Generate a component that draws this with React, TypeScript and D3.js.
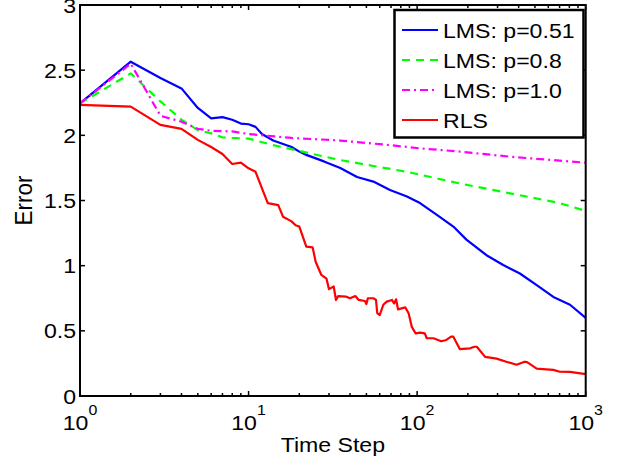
import React from "react";
import * as d3 from "d3";

const W = 621;
const H = 463;

const seriesNames = ["LMS: p=0.51", "LMS: p=0.8", "LMS: p=1.0", "RLS"];
const seriesColors = ["#0000ff", "#00ff00", "#ff00ff", "#ff0000"];
const seriesDash = ["none", "8,6", "8,4,2,4", "none"];

const lms051Steps = [1, 2, 3, 4, 5, 6, 7, 8, 9, 10, 11, 12, 14, 18, 20, 22, 28, 35, 44, 55, 69, 87, 104, 131, 164, 196, 258, 324, 407, 512, 643, 807, 1000];
const lms051Err = [2.245, 2.565, 2.44, 2.36, 2.21, 2.13, 2.14, 2.12, 2.09, 2.085, 2.065, 2.01, 1.96, 1.91, 1.875, 1.85, 1.8, 1.75, 1.68, 1.645, 1.58, 1.53, 1.48, 1.39, 1.3, 1.2, 1.08, 1.005, 0.94, 0.85, 0.76, 0.7, 0.6];

const lms08Steps = [1, 2, 3, 4, 5, 6, 7, 8, 10, 14, 20, 35, 55, 87, 180, 356, 702, 1000];
const lms08Err = [2.245, 2.475, 2.26, 2.12, 2.04, 2.015, 1.985, 1.98, 1.975, 1.925, 1.88, 1.81, 1.765, 1.72, 1.63, 1.555, 1.48, 1.42];

const lms10Steps = [1, 2, 3, 4, 5, 6, 8, 10, 18, 35, 69, 104, 180, 356, 1000];
const lms10Err = [2.245, 2.55, 2.15, 2.105, 2.05, 2.035, 2.03, 2.01, 1.98, 1.96, 1.925, 1.9, 1.875, 1.836, 1.79];

const rlsSteps = [1, 2, 3, 4, 5, 6, 7, 8, 9, 10, 11, 13, 15, 16, 18, 19, 20, 22, 24, 25, 27, 29, 30, 32, 33, 34, 38, 40, 43, 45, 49, 50, 51, 55, 57, 58, 60, 63, 66, 71, 73, 75, 77, 85, 89, 93, 98, 104, 111, 114, 125, 139, 149, 159, 164, 179, 206, 219, 226, 253, 296, 338, 389, 434, 449, 512, 584, 643, 702, 807, 1000];
const rlsErr = [2.233, 2.22, 2.08, 2.05, 1.965, 1.91, 1.857, 1.78, 1.79, 1.747, 1.72, 1.48, 1.465, 1.376, 1.34, 1.31, 1.3, 1.146, 1.14, 1.03, 0.93, 0.9, 0.82, 0.84, 0.737, 0.767, 0.762, 0.75, 0.767, 0.737, 0.729, 0.706, 0.75, 0.75, 0.737, 0.635, 0.62, 0.7, 0.724, 0.737, 0.71, 0.742, 0.665, 0.68, 0.635, 0.53, 0.48, 0.486, 0.48, 0.443, 0.443, 0.42, 0.43, 0.455, 0.455, 0.36, 0.366, 0.378, 0.378, 0.3, 0.287, 0.263, 0.24, 0.263, 0.26, 0.21, 0.205, 0.2, 0.186, 0.185, 0.168];

const yTicks = [0, 0.5, 1, 1.5, 2, 2.5, 3];
const yTickLabels = ["0", "0.5", "1", "1.5", "2", "2.5", "3"];
const xDecades = [0, 1, 2, 3];
const xLabel = "Time Step";
const yLabel = "Error";

const FONT = "'Liberation Sans', Arial, Helvetica, sans-serif";
const SX = 1.1;

const left = 80;
const right = 585.7;
const top = 5;
const bottom = 396;

export default function App() {
  const x = d3.scaleLog().domain([1, 1000]).range([left, right]);
  const y = d3.scaleLinear().domain([0, 3]).range([bottom, top]);

  const stepsList = [lms051Steps, lms08Steps, lms10Steps, rlsSteps];
  const errList = [lms051Err, lms08Err, lms10Err, rlsErr];

  const line = d3
    .line<[number, number]>()
    .x((d) => x(d[0]))
    .y((d) => y(d[1]));

  const paths = stepsList.map((s, i) =>
    line(s.map((v, j) => [v, errList[i][j]] as [number, number]))
  );

  const minor: number[] = [];
  [1, 10, 100].forEach((b) => {
    for (let k = 2; k <= 9; k++) minor.push(b * k);
  });

  const legX = 394.5;
  const legY = 10;
  const legW = 189;
  const legH = 127.5;
  const legRowY = (i: number) => 30 + i * 30;

  return (
    <svg
      width={W}
      height={H}
      viewBox={`0 0 ${W} ${H}`}
      style={{ position: "absolute", left: 0, top: 0, display: "block", background: "#fff" }}
    >
      <rect x={0} y={0} width={W} height={H} fill="#fff" />
      {paths.map((p, i) => (
        <path
          key={i}
          d={p || ""}
          fill="none"
          stroke={seriesColors[i]}
          strokeWidth={2.2}
          strokeDasharray={seriesDash[i]}
          strokeLinejoin="round"
        />
      ))}

      <rect x={left} y={top} width={right - left} height={bottom - top} fill="none" stroke="#000" strokeWidth={2} />

      {yTicks.map((t, i) => (
        <g key={"y" + i}>
          <line x1={left} x2={left + 5} y1={y(t)} y2={y(t)} stroke="#000" strokeWidth={1.5} />
          <line x1={right} x2={right - 5} y1={y(t)} y2={y(t)} stroke="#000" strokeWidth={1.5} />
          <text
            transform={`translate(76,${y(t) + 7.5}) scale(${SX},1)`}
            textAnchor="end"
            fontFamily={FONT}
            fontSize={21}
            fill="#000"
          >
            {yTickLabels[i]}
          </text>
        </g>
      ))}

      {xDecades.map((e) => {
        const v = Math.pow(10, e);
        const px = x(v);
        return (
          <g key={"x" + e}>
            <line x1={px} x2={px} y1={bottom} y2={bottom - 5} stroke="#000" strokeWidth={1.5} />
            <line x1={px} x2={px} y1={top} y2={top + 5} stroke="#000" strokeWidth={1.5} />
            <text
              transform={`translate(${px},430) scale(${SX},1)`}
              textAnchor="middle"
              fontFamily={FONT}
              fontSize={21}
              fill="#000"
            >
              10
              <tspan dy={-15} fontSize={14.5}>
                {String(e)}
              </tspan>
            </text>
          </g>
        );
      })}

      {minor.map((v) => (
        <g key={"m" + v}>
          <line x1={x(v)} x2={x(v)} y1={bottom} y2={bottom - 3} stroke="#000" strokeWidth={1.5} />
          <line x1={x(v)} x2={x(v)} y1={top} y2={top + 3} stroke="#000" strokeWidth={1.5} />
        </g>
      ))}

      <text
        transform={`translate(${(left + right) / 2},452) scale(${SX},1)`}
        textAnchor="middle"
        fontFamily={FONT}
        fontSize={21}
        fill="#000"
      >
        {xLabel}
      </text>
      <text
        transform={`translate(32,${(top + bottom) / 2}) rotate(-90) scale(1,${SX})`}
        textAnchor="middle"
        fontFamily={FONT}
        fontSize={22.5}
        fill="#000"
      >
        {yLabel}
      </text>

      <rect x={legX} y={legY} width={legW} height={legH} fill="#fff" stroke="#000" strokeWidth={2.5} />
      {seriesNames.map((n, i) => (
        <g key={"l" + i}>
          <line
            x1={402}
            x2={438}
            y1={legRowY(i)}
            y2={legRowY(i)}
            stroke={seriesColors[i]}
            strokeWidth={2.2}
            strokeDasharray={seriesDash[i]}
          />
          <text
            transform={`translate(443,${legRowY(i) + 7.5}) scale(${SX},1)`}
            fontFamily={FONT}
            fontSize={21}
            fill="#000"
          >
            {n}
          </text>
        </g>
      ))}
    </svg>
  );
}
